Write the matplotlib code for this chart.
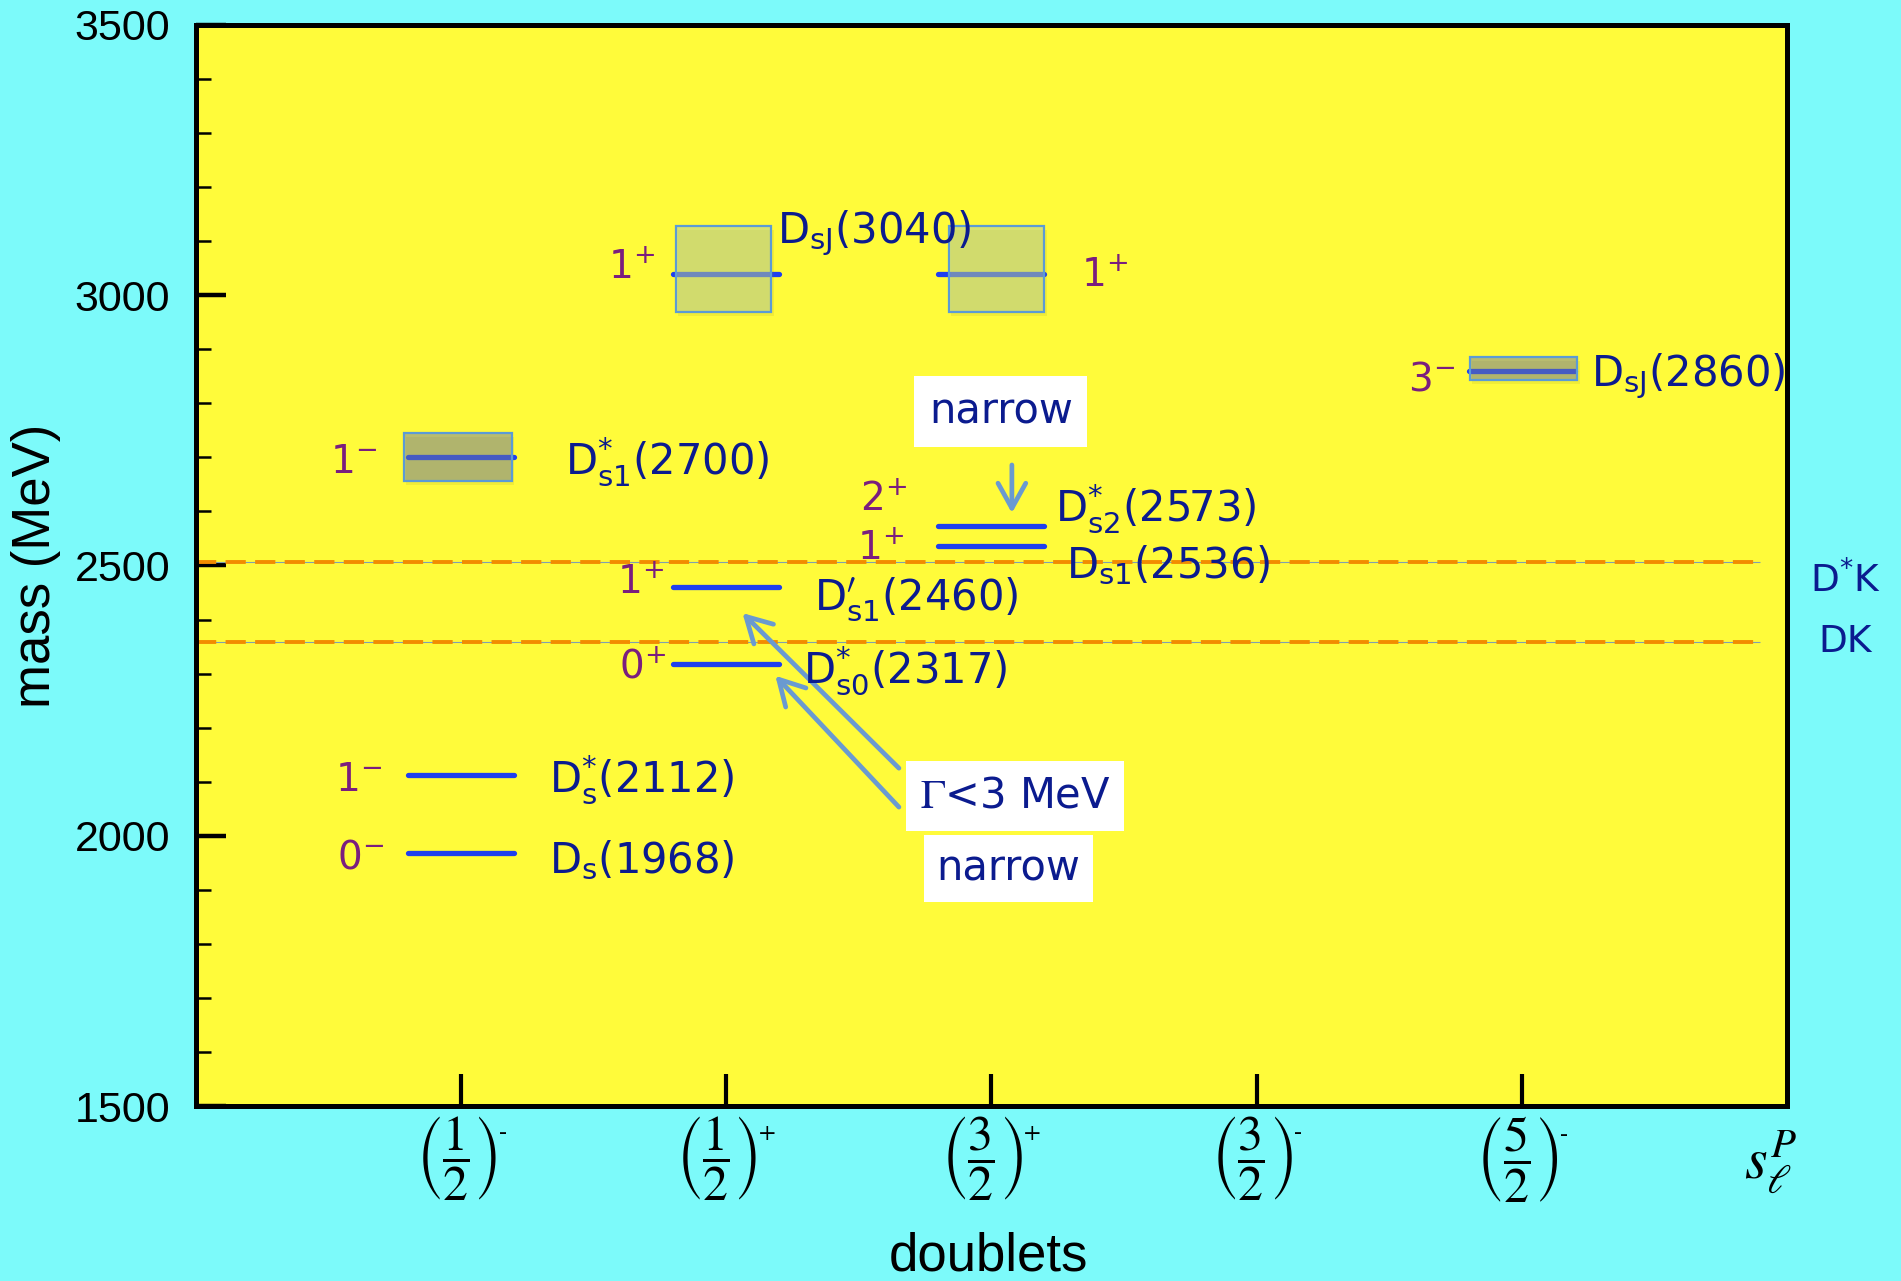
import matplotlib.pyplot as plt
from matplotlib.ticker import MultipleLocator, FixedLocator
from matplotlib.patches import Rectangle
from matplotlib.transforms import blended_transform_factory

# doublets on the x axis
doublets = [1, 2, 3, 4, 5]
doublet_labels = [r'$\left(\dfrac{1}{2}\right)^{\!^{\text{-}}}$',
                  r'$\left(\dfrac{1}{2}\right)^{\!^{\text{+}}}$',
                  r'$\left(\dfrac{3}{2}\right)^{\!^{\text{+}}}$',
                  r'$\left(\dfrac{3}{2}\right)^{\!^{\text{-}}}$',
                  r'$\left(\dfrac{5}{2}\right)^{\!^{\text{-}}}$']

# observed Ds levels
state_x = [1, 1, 1, 2, 2, 2, 3, 3, 3, 5]
state_mass = [1968, 2112, 2700, 2317, 2460, 3040, 2536, 2573, 3040, 2860]
state_jp = [r'0$^{-}$', r'1$^{-}$', r'1$^{-}$', r'0$^{+}$', r'1$^{+}$',
            r'1$^{+}$', r'1$^{+}$', r'2$^{+}$', r'1$^{+}$', r'3$^{-}$']
state_name = [r'D$_{\mathregular{s}}$(1968)',
              r'D$^{*}_{\mathregular{s}}$(2112)',
              r'D$^{*}_{\mathregular{s1}}$(2700)',
              r'D$^{*}_{\mathregular{s0}}$(2317)',
              r'D$^{\prime}_{\mathregular{s1}}$(2460)',
              r'D$_{\mathregular{sJ}}$(3040)',
              r'D$_{\mathregular{s1}}$(2536)',
              r'D$^{*}_{\mathregular{s2}}$(2573)',
              None,
              r'D$_{\mathregular{sJ}}$(2860)']

# mass uncertainty bands
band_x = [1, 2, 3, 5]
band_lo = [2657, 2969, 2969, 2843]
band_hi = [2745, 3129, 3129, 2886]

# open-charm thresholds
thresh_mass = [2359, 2507]
thresh_label = ['DK', r'D$^{*}$K']

navy = '#0B1B8F'
purple = '#7A1E7E'
lineblue = '#1F3FEF'
arrowblue = '#6A9AD0'

# label placement: (dx from level centre, dy from level) in data units
name_pos = [(0.33, -38), (0.33, -32), (0.39, -32), (0.29, -35), (0.33, -41),
            (0.19, 57), (0.28, -59), (0.24, 8), None, (0.26, -28)]
jp_pos = [(-0.289, -29, 'right'), (-0.30, -30, 'right'), (-0.317, -29, 'right'),
          (-0.227, -26, 'right'), (-0.236, -12, 'right'), (-0.27, -10, 'right'),
          (-0.33, -25, 'right'), (-0.32, 28, 'right'), (0.338, -24, 'left'),
          (-0.253, -37, 'right')]
band_dx = [(-0.215, 0.19), (-0.19, 0.17), (-0.16, 0.2), (-0.194, 0.21)]
band_face = [(100/255, 114/255, 175/255, 0.46), (179/255, 203/255, 164/255, 0.5),
             (179/255, 203/255, 164/255, 0.5), (100/255, 114/255, 175/255, 0.46)]

fig = plt.figure(figsize=(19.01, 12.81), dpi=100, facecolor='#7CFAFA')
ax = fig.add_axes([0.1031, 0.1366, 0.8369, 0.8439])
ax.set_facecolor('#FFFB3A')
ax.set_xlim(0, 6)
ax.set_ylim(1500, 3500)

for sp in ax.spines.values():
    sp.set_linewidth(3.6)
    sp.set_zorder(10)

# thresholds
for m in thresh_mass:
    ax.hlines(m, 0, 5.9, color='#7FA0B0', lw=0.8, zorder=2)
    ax.hlines(m, 0, 5.9, color='#F28C00', lw=2.8, linestyles=(0, (5.2, 2.4)), zorder=2)
ax.text(6.22, thresh_mass[1] - 35, thresh_label[1], color=navy, fontsize=27,
        ha='center', va='center', clip_on=False)
ax.text(6.22, thresh_mass[0], thresh_label[0], color=navy, fontsize=27,
        ha='center', va='center', clip_on=False)

# levels
for i, (x, m) in enumerate(zip(state_x, state_mass)):
    ax.plot([x - 0.2, x + 0.2], [m, m], color=lineblue, lw=3.8,
            solid_capstyle='round', zorder=3)
    if state_name[i] is not None:
        dx, dy = name_pos[i]
        ax.text(x + dx, m + dy, state_name[i], color=navy, fontsize=30,
                ha='left', va='baseline', zorder=6)
    dx, dy, ha = jp_pos[i]
    ax.text(x + dx, m + dy, state_jp[i], color=purple, fontsize=28,
            ha=ha, va='baseline', zorder=6)

# uncertainty bands
for x, lo, hi, (d0, d1), fc in zip(band_x, band_lo, band_hi, band_dx, band_face):
    ax.add_patch(Rectangle((x + d0 + 0.008, lo - 8), d1 - d0, hi - lo,
                           facecolor=(0.55, 0.55, 0.1, 0.12), edgecolor='none', zorder=3.5))
    ax.add_patch(Rectangle((x + d0, lo), d1 - d0, hi - lo, facecolor=fc,
                           edgecolor='#5B9BD5', lw=1.6, zorder=4))

# annotations
box = dict(boxstyle='square,pad=0.35', facecolor='white', edgecolor='none')
ax.text(3.035, 2785, 'narrow', color=navy, fontsize=30, ha='center', va='center',
        bbox=box, zorder=7)
ax.text(3.09, 2074, r'$\Gamma$<3 MeV', color=navy, fontsize=30, ha='center',
        va='center', bbox=dict(boxstyle='square,pad=0.33', facecolor='white',
                               edgecolor='none'),
        math_fontfamily='stix', zorder=8)
ax.text(3.063, 1939, 'narrow', color=navy, fontsize=30, ha='center', va='center',
        bbox=dict(boxstyle='square,pad=0.3', facecolor='white', edgecolor='none'),
        zorder=7)

arrow = dict(arrowstyle='->,head_length=0.9,head_width=0.5', color=arrowblue,
             lw=3.4, shrinkA=0, shrinkB=0, mutation_scale=20)
ax.annotate('', xy=(2.061, 2412), xytext=(2.651, 2125), arrowprops=arrow, zorder=5)
ax.annotate('', xy=(2.185, 2296), xytext=(2.651, 2053), arrowprops=arrow, zorder=5)
ax.annotate('', xy=(3.077, 2597), xytext=(3.077, 2686), arrowprops=arrow, zorder=5)

# axes and ticks
ax.xaxis.set_major_locator(FixedLocator(doublets))
ax.set_xticklabels(doublet_labels, fontsize=36)
for lbl in ax.get_xticklabels():
    lbl.set_math_fontfamily('stix')
ax.tick_params(axis='x', direction='in', length=23, width=3, pad=6)
ax.yaxis.set_major_locator(MultipleLocator(500))
ax.yaxis.set_minor_locator(MultipleLocator(100))
ax.tick_params(axis='y', which='major', direction='in', length=21.6, width=3.2,
               pad=18.7, labelsize=31)
ax.tick_params(axis='y', which='minor', direction='in', length=10.8, width=1.8)
for lbl in ax.get_yticklabels():
    lbl.set_fontfamily('Liberation Sans')

ax.set_xlabel('doublets', fontsize=38, family='Liberation Sans')
ax.xaxis.set_label_coords(0.498, -0.116)
ax.set_ylabel('mass (MeV)', fontsize=38, family='Liberation Sans')
ax.yaxis.set_label_coords(-0.085, 0.5)

trans = blended_transform_factory(ax.transData, ax.transAxes)
ax.text(5.94, -0.052, r'$s_{\ell}^{P}$', transform=trans, fontsize=42,
        ha='center', va='center', math_fontfamily='stix', clip_on=False)

fig.savefig('out.png', dpi=100, facecolor=fig.get_facecolor())
